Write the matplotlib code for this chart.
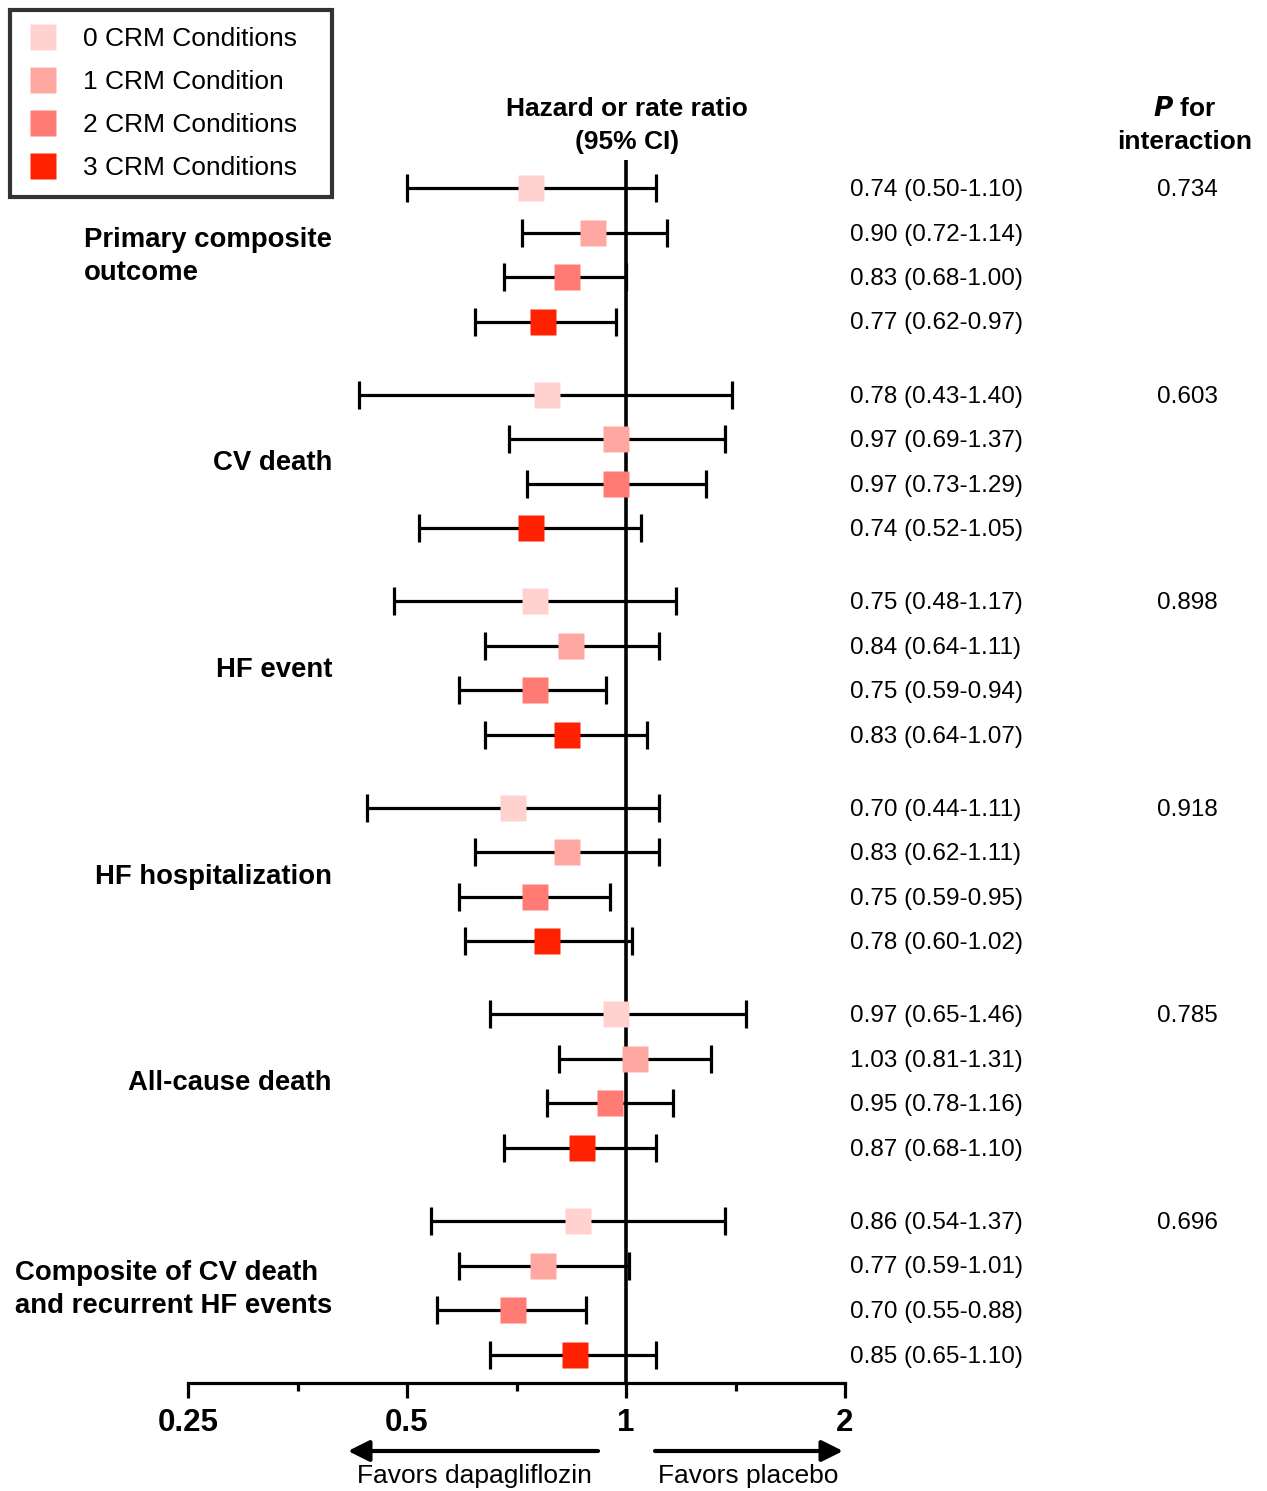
import matplotlib
matplotlib.use("Agg")
import matplotlib.pyplot as plt
from matplotlib.lines import Line2D
import numpy as np

plt.rcParams['font.family'] = ['Liberation Sans', 'DejaVu Sans']

W, H = 1267, 1491

outcomes = ["Primary composite\noutcome", "CV death", "HF event", "HF hospitalization",
            "All-cause death", "Composite of CV death\nand recurrent HF events"]
levels = ["0 CRM Conditions", "1 CRM Condition", "2 CRM Conditions", "3 CRM Conditions"]
colors = ["#FFD2D0", "#FFA8A2", "#FF7B73", "#FF2200"]

hr = [[0.74, 0.90, 0.83, 0.77],
      [0.78, 0.97, 0.97, 0.74],
      [0.75, 0.84, 0.75, 0.83],
      [0.70, 0.83, 0.75, 0.78],
      [0.97, 1.03, 0.95, 0.87],
      [0.86, 0.77, 0.70, 0.85]]
lo = [[0.50, 0.72, 0.68, 0.62],
      [0.43, 0.69, 0.73, 0.52],
      [0.48, 0.64, 0.59, 0.64],
      [0.44, 0.62, 0.59, 0.60],
      [0.65, 0.81, 0.78, 0.68],
      [0.54, 0.59, 0.55, 0.65]]
hi = [[1.10, 1.14, 1.00, 0.97],
      [1.40, 1.37, 1.29, 1.05],
      [1.17, 1.11, 0.94, 1.07],
      [1.11, 1.11, 0.95, 1.02],
      [1.46, 1.31, 1.16, 1.10],
      [1.37, 1.01, 0.88, 1.10]]
p_inter = ["0.734", "0.603", "0.898", "0.918", "0.785", "0.696"]

fig = plt.figure(figsize=(W / 100, H / 100), dpi=100)
ax = fig.add_axes([188 / W, 0, (845 - 188) / W, 1])
ax.set_xscale('log', base=2)
ax.set_xlim(0.25, 2)
ax.set_ylim(H, 0)

def fx(x):
    return x / W

def fy(y):
    return 1 - y / H

# row positions (pixel layout)
def row_y(g, i):
    return 188 + g * 206.6 + i * 44.5

ax.vlines(1, 160, 1383, color='black', lw=2.6, zorder=1)

for g in range(len(outcomes)):
    for i in range(4):
        y = row_y(g, i)
        h, l, u = hr[g][i], lo[g][i], hi[g][i]
        ax.errorbar([h], [y], xerr=[[h - l], [u - h]], fmt='none', ecolor='black',
                    elinewidth=2.3, capsize=10, capthick=2.3, zorder=2)
        ax.plot([h], [y], marker='s', ms=19, color=colors[i], mec='none', zorder=3, ls='none')
        fig.text(fx(850), fy(y + 2), f"{h:.2f} ({l:.2f}-{u:.2f})", ha='left', va='center', fontsize=17.5)
    fig.text(fx(1187), fy(row_y(g, 0) + 2), p_inter[g], ha='center', va='center', fontsize=17.5)
    yc = (row_y(g, 0) + row_y(g, 3)) / 2
    fig.text(fx(332), fy(yc + 2), outcomes[g], ha='right', va='center', multialignment='left',
             fontsize=19.8, fontweight='bold', linespacing=1.33)

# axis
for s in ['top', 'left', 'right']:
    ax.spines[s].set_visible(False)
ax.spines['bottom'].set_position(('data', 1383))
ax.spines['bottom'].set_linewidth(2.3)
ax.set_yticks([])
ax.set_xticks([0.25, 0.5, 1, 2])
ax.set_xticklabels(["0.25", "0.5", "1", "2"], fontsize=22.5, fontweight='bold')
ax.set_xticks([2 ** -1.5, 2 ** -0.5, 2 ** 0.5], minor=True)
ax.xaxis.set_minor_formatter(matplotlib.ticker.NullFormatter())
ax.tick_params(axis='x', which='major', length=11, width=2.3, pad=7)
ax.tick_params(axis='x', which='minor', length=6, width=2.3)

# headers
fig.text(fx(627), fy(109), "Hazard or rate ratio", ha='center', va='center',
         fontsize=19, fontweight='bold')
fig.text(fx(627), fy(142), "(95% CI)", ha='center', va='center',
         fontsize=19, fontweight='bold')
fig.text(fx(1185), fy(109), r"$\bfit{P}$" + " for", ha='center', va='center', fontsize=19, fontweight='bold')
fig.text(fx(1185), fy(142), "interaction", ha='center', va='center', fontsize=19, fontweight='bold')

# arrows
ax.annotate("", xy=(348, H - 1451), xytext=(598, H - 1451), xycoords='figure pixels',
            textcoords='figure pixels',
            arrowprops=dict(arrowstyle='-|>', lw=3, color='black', mutation_scale=32, shrinkA=0, shrinkB=0))
ax.annotate("", xy=(843, H - 1451), xytext=(655, H - 1451), xycoords='figure pixels',
            textcoords='figure pixels',
            arrowprops=dict(arrowstyle='-|>', lw=3, color='black', mutation_scale=32, shrinkA=0, shrinkB=0))
fig.text(fx(474), fy(1476), "Favors dapagliflozin", ha='center', va='center', fontsize=19)
fig.text(fx(748), fy(1476), "Favors placebo", ha='center', va='center', fontsize=19)

# legend
handles = [Line2D([], [], marker='s', ms=19, color=c, mec='none', ls='none') for c in colors]
leg = fig.legend(handles, levels, loc='upper left', bbox_to_anchor=(fx(10), fy(198), 322 / W, 188 / H),
                 bbox_transform=fig.transFigure, borderaxespad=0, fontsize=19, mode='expand',
                 frameon=True, fancybox=False, edgecolor='black', labelspacing=0.72,
                 handlelength=1.2, handletextpad=0.9, borderpad=0.65)
leg.get_frame().set_linewidth(3)

fig.savefig("out.png", dpi=100)
